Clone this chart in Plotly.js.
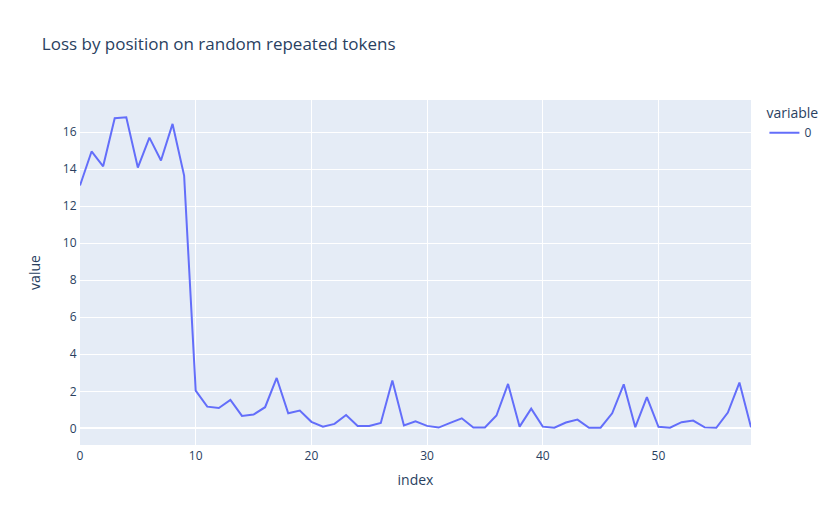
<!DOCTYPE html>
<html>
<head>
<meta charset="utf-8">
<script src="https://cdn.plot.ly/plotly-3.0.1.min.js"></script>
<style>html,body{margin:0;padding:0;}#chart{width:836px;height:525px;}</style>
</head>
<body>
<div id="chart"></div>
<script>
const indexValues = Array.from({length: 59}, (_, i) => i);
const lossValues = [
  13.12, 14.96, 14.16, 16.76, 16.81, 14.09, 15.71, 14.47, 16.45, 13.66,
  2.04, 1.17, 1.10, 1.53, 0.67, 0.74, 1.14, 2.72, 0.81, 0.96,
  0.35, 0.09, 0.24, 0.72, 0.13, 0.13, 0.29, 2.58, 0.15, 0.38,
  0.13, 0.04, 0.29, 0.54, 0.04, 0.04, 0.69, 2.40, 0.09, 1.06,
  0.09, 0.03, 0.31, 0.47, 0.03, 0.03, 0.81, 2.38, 0.06, 1.68,
  0.08, 0.03, 0.33, 0.42, 0.05, 0.03, 0.85, 2.47, 0.06
];
const seriesName = "0";

const trace = {
  x: indexValues,
  y: lossValues,
  type: "scatter",
  mode: "lines",
  name: seriesName,
  line: {color: "#636efa", width: 2},
  showlegend: true
};

const layout = {
  width: 836,
  height: 525,
  paper_bgcolor: "white",
  plot_bgcolor: "#E5ECF6",
  font: {family: "Open Sans, Verdana, Arial, sans-serif", size: 12, color: "#2a3f5f"},
  title: {text: "Loss by position on random repeated tokens", x: 0.05, font: {size: 17}},
  margin: {t: 100, b: 80, l: 80, r: 85},
  xaxis: {
    title: {text: "index", standoff: 11},
    range: [0, 58],
    gridcolor: "white",
    linecolor: "white",
    zerolinecolor: "white",
    zerolinewidth: 2,
    ticks: "",
    automargin: true
  },
  yaxis: {
    title: {text: "value", standoff: 18},
    gridcolor: "white",
    linecolor: "white",
    zerolinecolor: "white",
    zerolinewidth: 2,
    ticks: "",
    automargin: true
  },
  legend: {title: {text: "variable"}, tracegroupgap: 0},
  showlegend: true
};

Plotly.newPlot("chart", [trace], layout, {displayModeBar: false});
</script>
</body>
</html>
